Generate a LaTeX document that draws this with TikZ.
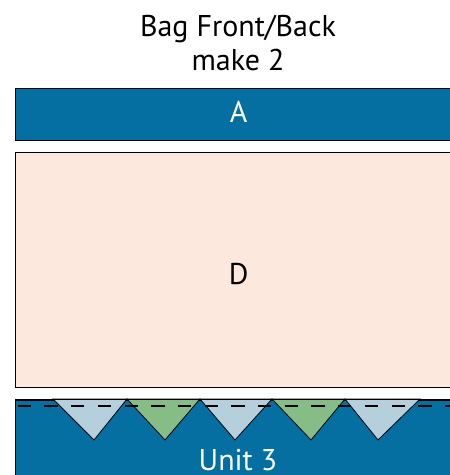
\documentclass[tikz,border=0pt]{standalone}
\usepackage{fontspec}
\setmainfont{PT Sans}
\usetikzlibrary{positioning}
\definecolor{unitblue}{HTML}{046FA0}
\definecolor{peach}{HTML}{FCE8DC}
\definecolor{paleblue}{HTML}{B5CFDC}
\definecolor{palegreen}{HTML}{86BC86}
\tikzset{
  band/.style={draw=black, line width=1.2pt, fill=unitblue, text=white, minimum width=446pt, inner sep=0pt},
  bigtext/.style={font=\fontsize{30}{34}\selectfont}
}
\begin{document}
\begin{tikzpicture}[x=1pt,y=-1pt]
  \useasboundingbox (0,0) rectangle (450,475);
  \clip (0,0) rectangle (450,475);
  \node[bigtext, align=center, inner sep=0pt, anchor=north] (title) at (238,15) {Bag Front/Back\\make 2}; % Заголовок
  \node[band, bigtext, minimum height=52pt, anchor=north west, text depth=6pt] (A) at (15,88) {A};
  \node[band, bigtext, fill=peach, text=black, minimum height=235pt, below=11pt of A, text height=28pt] (D) {D};
  \node[band, minimum height=122pt, below=11pt of D] (unit) {};
  \node[bigtext, text=white, anchor=base] (unitlabel) at (238,470) {Unit 3};
  % Треугольники вдоль верхнего края
  \foreach \l/\m/\r/\c in {53/94/127/paleblue, 127/165/200/palegreen, 200/235/272/paleblue, 272/311/345/palegreen, 345/378/420/paleblue}
    \filldraw[fill=\c, draw=black, line width=0.8pt, line join=miter] (\l,399) -- (\m,440) -- (\r,399) -- cycle;
  \draw[line width=1.6pt, dash pattern=on 13.3pt off 13.4pt, dash phase=24pt] (15,406) -- (461,406); % Пунктирная линия шва
  \draw[line width=1.2pt] (unit.north west) -- (unit.north east);
\end{tikzpicture}
\end{document}
